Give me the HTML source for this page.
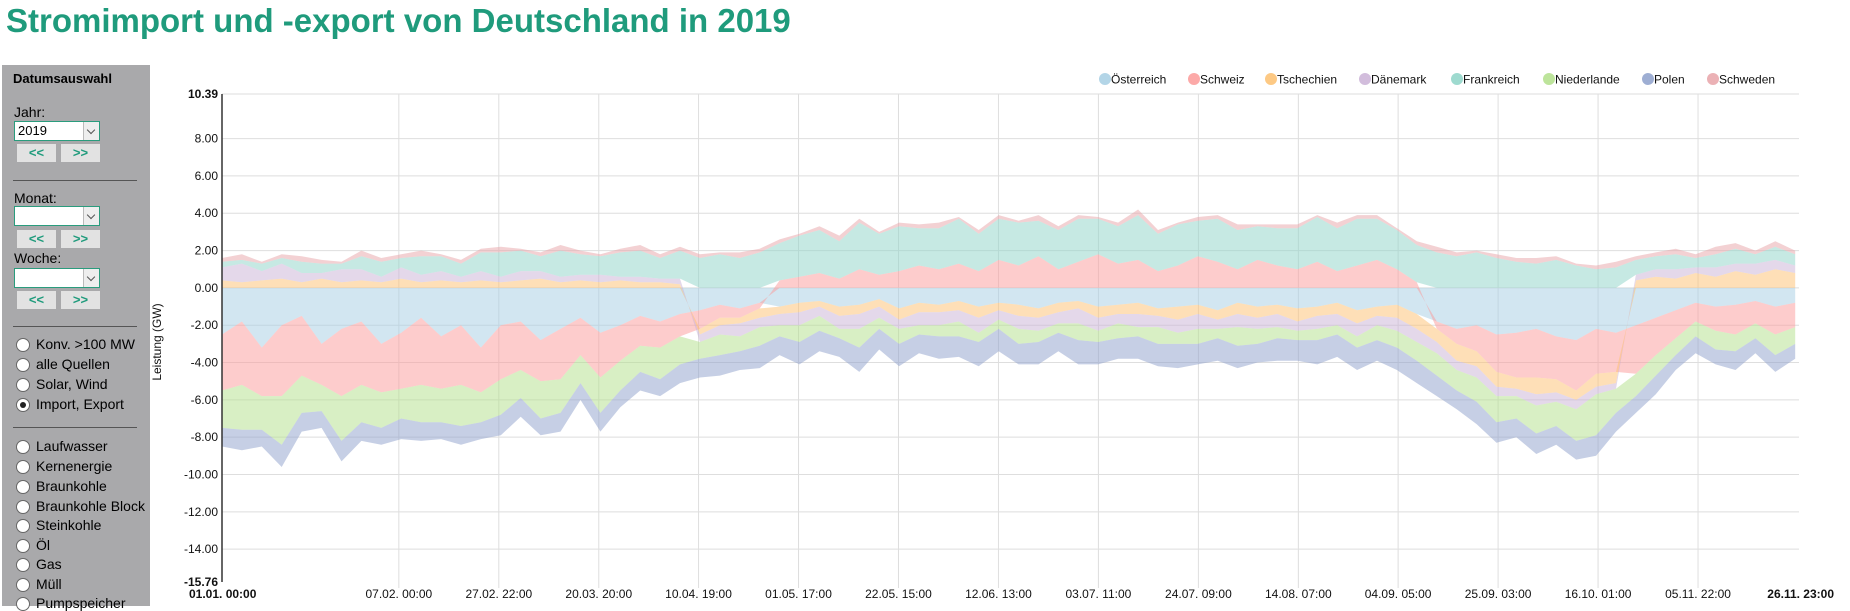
<!DOCTYPE html>
<html><head><meta charset="utf-8">
<style>
body{margin:0;width:1850px;height:606px;overflow:hidden;background:#fff;font-family:"Liberation Sans",Arial,sans-serif;position:relative}
h1{position:absolute;left:6px;top:2px;margin:0;font-size:33px;font-weight:bold;color:#1f9b7c;white-space:nowrap}
#side{position:absolute;left:2px;top:65px;width:148px;height:541px;background:#a9a9ab}
.t{position:absolute;font-size:14px;color:#000;white-space:nowrap}
.sel{position:absolute;width:81px;height:18px;background:#fff;border:1px solid #2a9c7d;font-size:13px;line-height:18px;padding-left:3px;box-sizing:content-box}
.sel i{position:absolute;right:0;top:0;width:15px;height:18px;background:#eee;border-left:1px solid #bbb}
.sel i:after{content:"";position:absolute;left:4px;top:5px;width:5px;height:5px;border-right:1px solid #555;border-bottom:1px solid #555;transform:rotate(45deg)}
.btn{position:absolute;width:39px;height:18px;background:#e2e2e2;color:#1f9b7c;font-weight:bold;font-size:13px;text-align:center;line-height:18px}
.hr{position:absolute;left:11px;width:124px;height:1px;background:#555}
.rad{position:absolute;left:14px;width:12px;height:12px;border-radius:50%;background:#fff;border:1px solid #666}
.rad.on:after{content:"";position:absolute;left:3px;top:3px;width:6px;height:6px;border-radius:50%;background:#222}
</style></head><body>
<h1>Stromimport und -export von Deutschland in 2019</h1>
<div id="side">
<div class="t" style="left:11px;top:6px;font-weight:bold;font-size:13px">Datumsauswahl</div>
<div class="t" style="left:12px;top:39px">Jahr:</div>
<div class="sel" style="left:12px;top:56px">2019<i></i></div>
<div class="btn" style="left:15px;top:79px">&lt;&lt;</div>
<div class="btn" style="left:59px;top:79px">&gt;&gt;</div>
<div class="hr" style="top:115px"></div>
<div class="t" style="left:12px;top:125px">Monat:</div>
<div class="sel" style="left:12px;top:141px"><i></i></div>
<div class="btn" style="left:15px;top:165px">&lt;&lt;</div>
<div class="btn" style="left:59px;top:165px">&gt;&gt;</div>
<div class="t" style="left:12px;top:185px">Woche:</div>
<div class="sel" style="left:12px;top:203px"><i></i></div>
<div class="btn" style="left:15px;top:226px">&lt;&lt;</div>
<div class="btn" style="left:59px;top:226px">&gt;&gt;</div>
<div class="hr" style="top:261px"></div>
<div class="rad" style="top:273px"></div><div class="t" style="left:34px;top:271px">Konv. &gt;100 MW</div>
<div class="rad" style="top:293px"></div><div class="t" style="left:34px;top:291px">alle Quellen</div>
<div class="rad" style="top:313px"></div><div class="t" style="left:34px;top:311px">Solar, Wind</div>
<div class="rad on" style="top:333px"></div><div class="t" style="left:34px;top:331px">Import, Export</div>
<div class="hr" style="top:362px"></div>
<div class="rad" style="top:375px"></div><div class="t" style="left:34px;top:373px">Laufwasser</div>
<div class="rad" style="top:395px"></div><div class="t" style="left:34px;top:393px">Kernenergie</div>
<div class="rad" style="top:415px"></div><div class="t" style="left:34px;top:413px">Braunkohle</div>
<div class="rad" style="top:435px"></div><div class="t" style="left:34px;top:433px">Braunkohle Block</div>
<div class="rad" style="top:454px"></div><div class="t" style="left:34px;top:452px">Steinkohle</div>
<div class="rad" style="top:474px"></div><div class="t" style="left:34px;top:472px">Öl</div>
<div class="rad" style="top:493px"></div><div class="t" style="left:34px;top:491px">Gas</div>
<div class="rad" style="top:513px"></div><div class="t" style="left:34px;top:511px">Müll</div>
<div class="rad" style="top:532px"></div><div class="t" style="left:34px;top:530px">Pumpspeicher</div>
</div>
<svg id="chart" width="1850" height="606" style="position:absolute;left:0;top:0"></svg>
<script>
const seriesNames=["Österreich","Schweiz","Tschechien","Dänemark","Frankreich","Niederlande","Polen","Schweden"];
const seriesColors=["#a6cee3","#fb9a99","#fdbf6f","#cab2d6","#8dd3c7","#b2df8a","#8da0cb","#e7a3a8"];
const stepHours=100;
const oesterreich=[-2.5,-1.8,-3.2,-2,-1.5,-3,-2.2,-1.8,-3,-2.4,-1.6,-2.6,-2,-3.2,-2,-1.8,-2.8,-2.2,-1.6,-2.4,-2,-1.5,-1.8,-1.4,
-1.2,-0.9,-1.1,-0.8,-1,-0.8,-0.7,-1,-0.9,-0.6,-1.1,-0.8,-0.9,-0.7,-1,-0.8,-0.9,-1.1,-0.8,-0.7,-1,-0.9,-0.8,-1.1,-1,-0.9,-1.2,-0.8,-1,-0.9,-1.1,-1,-0.8,-1.2,-1,-0.9,
-1.4,-1.8,-2.2,-2,-2.5,-2.4,-2.2,-2.6,-2.8,-2.2,-2.4,-2,-1.6,-1.2,-0.8,-1,-0.9,-0.7,-1,-0.8];
const schweiz=[-3,-3.4,-2.6,-3.8,-3.2,-2.2,-3.6,-3.4,-2.6,-3,-3.6,-2.8,-3.2,-2.4,-2.9,-2.6,-2.2,-2.7,-2,-2.4,-1.9,-1.6,-1.4,-1.2,
-1,-0.7,-0.5,-0.3,0.4,0.6,0.8,0.5,1,0.7,0.9,1.2,
1,1.3,0.9,1.5,1.2,1.7,1,1.4,1.8,1.3,1.5,0.9,1.2,1.7,1.4,1,1.5,1.2,1,1.4,0.9,1.2,1.5,1,
0.3,-0.4,-0.8,-1.4,-2,-2.4,-2.6,-2.3,-2.7,-2.4,-2.1,-2.6,-2,-1.5,-1,-1.3,-1.6,-1.2,-1.5,-1.3];
const tschechien=[0.4,0.3,0.4,0.5,0.3,0.5,0.3,0.4,0.3,0.5,0.3,0.4,0.3,0.4,0.3,0.4,0.5,0.3,0.4,0.3,0.4,0.3,0.3,0.2,
-0.3,-0.4,-0.3,-0.5,-0.4,-0.5,-0.3,-0.5,-0.5,-0.4,-0.6,-0.5,-0.4,-0.5,-0.6,-0.4,-0.6,-0.5,-0.5,-0.4,-0.6,-0.5,-0.6,-0.4,-0.7,-0.5,-0.5,-0.6,-0.6,-0.5,-0.7,-0.5,-0.6,-0.7,-0.5,-0.7,
-0.8,-0.7,-0.9,-0.8,-0.8,-0.6,-0.9,-0.7,-0.5,-0.7,-0.6,0.4,0.6,0.5,0.8,0.6,0.9,0.7,1,0.8];
const daenemark=[0.7,1,0.5,0.8,0.5,0.3,0.7,0.6,0.3,0.6,0.4,0.5,0.3,0.5,0.3,0.5,0.4,0.3,0.3,0.4,0.2,0.3,0.2,0.3,
-0.4,-0.5,-0.7,-0.5,-0.6,-0.7,-0.5,-0.7,-0.8,-0.6,-0.5,-0.7,-0.7,-0.6,-0.8,-0.5,-0.7,-0.7,-0.6,-0.8,-0.7,-0.5,-0.7,-0.6,-0.7,-0.8,-0.5,-0.7,-0.6,-0.7,-0.5,-0.7,-0.6,-0.7,-0.5,-0.7,
-0.7,-0.6,-0.5,-0.6,-0.5,-0.4,-0.6,-0.5,-0.5,-0.4,-0.3,0.3,0.4,0.5,0.3,0.5,0.4,0.6,0.5,0.4];
const frankreich=[0.3,0.2,0.4,0.3,0.6,0.5,0.3,0.7,0.8,0.5,1,0.8,0.7,1,1.3,1.1,0.8,1.4,1.1,1,1.3,1.4,1.1,1.5,
1.6,1.8,1.6,1.9,2,2.2,2.3,2,2.5,2.2,2.4,2,2.2,2.4,2,2.2,2.3,1.9,2.1,2.3,1.9,2,2.4,2,2.2,1.9,2.3,2.1,1.8,2,2.2,2.4,2.3,2.5,2.2,2.1,
2,1.9,1.7,1.9,1.6,1.4,1.3,1.5,1.2,1,1.1,0.8,0.7,0.8,0.5,0.7,0.8,0.5,0.7,0.6];
const niederlande=[-2,-2.4,-1.8,-2.6,-2,-1.4,-2.4,-2,-1.9,-1.6,-2,-1.8,-2.2,-1.6,-1.9,-1.5,-2,-1.8,-1.5,-1.9,-1.6,-1.4,-1.7,-1.5,
-0.9,-1.1,-0.8,-1,-0.6,-0.9,-0.8,-0.5,-1,-0.6,-0.8,-0.5,-0.6,-0.8,-0.5,-0.5,-0.8,-0.6,-0.5,-0.9,-0.6,-0.8,-0.5,-0.9,-0.6,-0.8,-0.5,-1,-0.8,-0.6,-0.5,-0.6,-0.5,-0.6,-0.8,-0.9,
-1,-1.2,-1.1,-1.3,-1.4,-1.2,-1.5,-1.3,-1.7,-2.2,-1.3,-1.2,-1.1,-0.9,-0.8,-1,-0.9,-0.8,-1.1,-0.9];
const polen=[-1,-1.1,-0.9,-1.2,-1,-0.9,-1.1,-1,-0.9,-1.1,-1,-0.9,-1,-0.9,-1.1,-1,-0.9,-1,-0.9,-1,-0.9,-1,-0.9,-1,
-1,-1.1,-1,-1.2,-1,-1.2,-1.1,-1,-1.3,-1.1,-1.2,-1,-1.2,-1.1,-1.3,-1.2,-1.1,-1.2,-1,-1.3,-1.2,-1.1,-1.2,-1.2,-1.3,-1.1,-1.2,-1.2,-1,-1.2,-1.1,-1.3,-1.2,-1.2,-1.1,-1.2,
-1.2,-1.1,-1,-1.2,-1.1,-1,-1.1,-1,-1,-1.1,-1,-0.9,-1,-0.8,-0.9,-0.8,-1,-0.8,-0.9,-0.8];
const schweden=[0.2,0.3,0.1,0.2,0.3,0.2,0.1,0.3,0.2,0.2,0.3,0.1,0.2,0.2,0.3,0.1,0.2,0.3,0.2,0.1,0.2,0.3,0.2,0.2,
0.2,0.1,0.3,0.2,0.2,0.1,0.2,0.3,0.2,0.1,0.2,0.2,0.3,0.1,0.2,0.2,0.1,0.3,0.2,0.2,0.1,0.2,0.3,0.2,0.1,0.2,0.2,0.3,0.1,0.2,0.2,0.1,0.3,0.2,0.2,0.1,
0.2,0.3,0.2,0.1,0.2,0.2,0.3,0.2,0.1,0.2,0.3,0.2,0.2,0.3,0.2,0.4,0.3,0.2,0.3,0.2];
const seriesValues=[oesterreich,schweiz,tschechien,daenemark,frankreich,niederlande,polen,schweden];
const yTicks=[8,6,4,2,0,-2,-4,-6,-8,-10,-12,-14];
const yMax=10.39, yMin=-15.76, hourMax=7919;
const xTickHours=[888,1390,1892,2393,2895,3397,3899,4401,4903,5405,5906,6408,6910,7412];
const xTickLabels=["07.02. 00:00","27.02. 22:00","20.03. 20:00","10.04. 19:00","01.05. 17:00","22.05. 15:00","12.06. 13:00","03.07. 11:00","24.07. 09:00","14.08. 07:00","04.09. 05:00","25.09. 03:00","16.10. 01:00","05.11. 22:00"];

const NS="http://www.w3.org/2000/svg";
const svg=document.getElementById('chart');
const L=222,R=1799,T=94,B=582;
const x=h=>L+(h/hourMax)*(R-L);
const y=v=>T+(yMax-v)/(yMax-yMin)*(B-T);
function mk(tag,attrs,parent){const e=document.createElementNS(NS,tag);for(const k in attrs)e.setAttribute(k,attrs[k]);(parent||svg).appendChild(e);return e;}

const grid=mk('g',{});


[yMax].concat(yTicks).forEach(v=>{const l=mk('line',{x1:L,x2:R,y1:y(v),y2:y(v),stroke:'#dedede','stroke-width':1},grid);

});
xTickHours.forEach(h=>{const l=mk('line',{x1:x(h),x2:x(h),y1:T,y2:B+6,stroke:'#dedede','stroke-width':1},grid);

});

const n=oesterreich.length;
const pos=new Array(n).fill(0), neg=new Array(n).fill(0);
const areas=mk('g',{});


seriesValues.forEach((vals,si)=>{
  const top=[],bot=[];
  for(let i=0;i<n;i++){
    const v=vals[i];let y0,y1;
    if(v>=0){y0=pos[i];y1=pos[i]+v;pos[i]=y1;}else{y0=neg[i];y1=neg[i]+v;neg[i]=y1;}
    const hx=Math.min(i*stepHours,hourMax);
    top.push(x(hx).toFixed(1)+','+y(y1).toFixed(1));
    bot.unshift(x(hx).toFixed(1)+','+y(y0).toFixed(1));
  }
  const p=mk('polygon',{points:top.concat(bot).join(' '),fill:seriesColors[si],'fill-opacity':0.5},areas);
  
  
});

const ax=mk('line',{x1:L,x2:L,y1:T,y2:B,stroke:'#333','stroke-width':1.5});


[yMax].concat(yTicks).concat([yMin]).forEach(v=>{
  const bold=(v===yMax||v===yMin);
  const t=mk('text',{x:L-4,y:y(v)+4,'text-anchor':'end','font-size':12,'font-weight':bold?'bold':'normal',fill:'#111','font-family':'Liberation Sans, Arial, sans-serif'});
  t.textContent=v.toFixed(2);
  
  
});
const yt=mk('text',{x:0,y:0,transform:'translate(161,342) rotate(-90)','text-anchor':'middle','font-size':12,fill:'#111','font-family':'Liberation Sans, Arial, sans-serif'});
yt.textContent='Leistung (GW)';



xTickHours.forEach((h,i)=>{
  const t=mk('text',{x:x(h),y:598,'text-anchor':'middle','font-size':12,fill:'#111','font-family':'Liberation Sans, Arial, sans-serif'});
  t.textContent=xTickLabels[i];
  
  
});
const xs=mk('text',{x:L-33,y:598,'font-size':12,'font-weight':'bold',fill:'#111','font-family':'Liberation Sans, Arial, sans-serif'});
xs.textContent='01.01. 00:00';


const xe=mk('text',{x:1834,y:598,'text-anchor':'end','font-size':12,'font-weight':'bold',fill:'#111','font-family':'Liberation Sans, Arial, sans-serif'});
xe.textContent='26.11. 23:00';



const legX=[1105,1194,1271,1365,1457,1549,1648,1713];
seriesNames.forEach((nm,i)=>{
  const g=mk('g',{});
  
  
  mk('circle',{cx:legX[i],cy:79,r:6,fill:seriesColors[i],'fill-opacity':0.85},g);
  const t=mk('text',{x:legX[i]+6,y:83.5,'font-size':12,fill:'#111','font-family':'Liberation Sans, Arial, sans-serif'},g);
  t.textContent=nm;
});
</script>
</body></html>
